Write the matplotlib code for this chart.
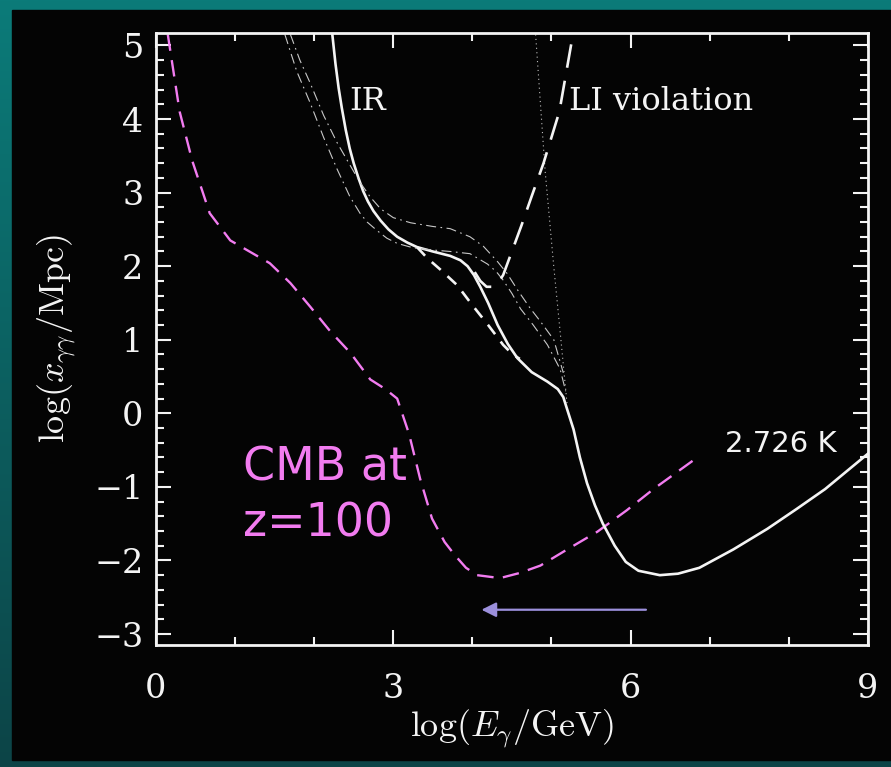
import numpy as np
import matplotlib
matplotlib.use("Agg")
import matplotlib.pyplot as plt
from matplotlib.patches import Rectangle

plt.rcParams['mathtext.fontset'] = 'cm'

# ---- data (log E in GeV, log x in Mpc) ----
cmb_x = [0.15, 0.3, 0.46, 0.68, 0.94, 1.23, 1.44, 1.70, 1.95, 2.2, 2.46, 2.71, 2.9,
         3.05, 3.2, 3.34, 3.49, 3.65, 3.78, 3.92, 4.06, 4.35, 4.6, 4.86, 5.2, 5.58, 5.95, 6.29, 6.87]
cmb_y = [5.15, 4.1, 3.43, 2.72, 2.35, 2.17, 2.04, 1.77, 1.45, 1.12, 0.82, 0.46, 0.33,
         0.2, -0.28, -0.89, -1.43, -1.75, -1.93, -2.1, -2.2, -2.24, -2.17, -2.07, -1.85, -1.61, -1.32, -1.03, -0.58]

ir_x = [2.23, 2.27, 2.31, 2.35, 2.40, 2.45, 2.50, 2.56, 2.62, 2.68, 2.75, 2.84, 2.94, 3.05,
        3.18, 3.3, 3.5, 3.72, 3.85, 3.94, 4.02, 4.1, 4.2, 4.32, 4.45, 4.57, 4.75, 4.95, 5.08,
        5.15, 5.2, 5.28, 5.36, 5.45, 5.55, 5.65, 5.8, 5.94, 6.1, 6.37, 6.6, 6.87, 7.3, 7.73,
        8.1, 8.46, 9.0]
ir_y = [5.15, 4.75, 4.42, 4.15, 3.85, 3.6, 3.4, 3.2, 3.02, 2.88, 2.75, 2.62, 2.5, 2.4,
        2.32, 2.26, 2.2, 2.14, 2.08, 2.0, 1.88, 1.72, 1.5, 1.2, 0.94, 0.75, 0.56, 0.43, 0.33,
        0.22, 0.05, -0.22, -0.6, -0.95, -1.25, -1.5, -1.8, -2.02, -2.14, -2.2, -2.18, -2.1,
        -1.85, -1.57, -1.3, -1.03, -0.55]

sd_x = [3.3, 3.43, 3.6, 3.81, 4.0, 4.2, 4.39, 4.51, 4.6]
sd_y = [2.26, 2.11, 1.95, 1.74, 1.47, 1.2, 0.93, 0.8, 0.74]

dda_x = [1.70, 1.82, 1.95, 2.12, 2.29, 2.45, 2.58, 2.71, 2.84, 3.0, 3.22, 3.5, 3.72,
         3.97, 4.14, 4.32, 4.44, 4.57, 4.73, 4.86, 5.03, 5.15]
dda_y = [5.15, 4.8, 4.49, 4.05, 3.68, 3.38, 3.14, 2.94, 2.78, 2.66, 2.59, 2.54, 2.51,
         2.40, 2.27, 2.06, 1.9, 1.68, 1.43, 1.25, 1.0, 0.55]

ddb_x = [1.63, 1.78, 1.95, 2.12, 2.29, 2.45, 2.58, 2.67, 2.8, 2.92, 3.05, 3.25, 3.5,
         3.72, 3.97, 4.19, 4.3, 4.39, 4.5, 4.61, 4.77, 4.95, 5.11, 5.18]
ddb_y = [5.15, 4.65, 4.22, 3.75, 3.32, 2.95, 2.72, 2.6, 2.48, 2.38, 2.31, 2.25, 2.22,
         2.2, 2.17, 2.03, 1.93, 1.81, 1.63, 1.42, 1.2, 0.93, 0.6, 0.3]

dot_x = [4.8, 4.92, 5.03, 5.12, 5.2]
dot_y = [5.15, 3.3, 1.99, 1.0, 0.1]

li_x = [4.03, 4.1, 4.18, 4.26, 4.33, 4.39, 4.5, 4.62, 4.75, 4.9, 5.1, 5.28]
li_y = [1.92, 1.8, 1.72, 1.72, 1.78, 1.88, 2.2, 2.55, 2.95, 3.4, 4.1, 5.2]

arrow_start = (6.23, -2.67)
arrow_end = (4.08, -2.67)

xticks = [0, 3, 6, 9]
yticks = [-3, -2, -1, 0, 1, 2, 3, 4, 5]

# ---- figure ----
fig = plt.figure(figsize=(8.91, 7.67), dpi=100)

# teal slide background + black panel
bg = fig.add_axes([0, 0, 1, 1])
grad = np.linspace(0, 1, 256).reshape(-1, 1)
bg.imshow(grad, aspect='auto', extent=[0, 1, 0, 1],
          cmap=matplotlib.colors.LinearSegmentedColormap.from_list('t', ['#0b7b79', '#0d4447']))
bg.add_patch(Rectangle((12 / 891, 7 / 767), 1, 750 / 767, color='#040404', zorder=2))
bg.set_xlim(0, 1)
bg.set_ylim(0, 1)
bg.axis('off')

ax = fig.add_axes([0.175, 0.159, 0.799, 0.798])
ax.set_facecolor('#040404')

white = '#f4f4f4'
ax.plot(cmb_x, cmb_y, color='#f27cf0', lw=1.7, dashes=(7, 4))
ax.plot(ir_x, ir_y, color=white, lw=1.9)
ax.plot(sd_x, sd_y, color=white, lw=1.9, dashes=(4.5, 3.5))
ax.plot(dda_x, dda_y, color='#c8c8c8', lw=0.8, dashes=(9, 4, 1.5, 4))
ax.plot(ddb_x, ddb_y, color='#c8c8c8', lw=0.8, dashes=(9, 4, 1.5, 4))
ax.plot(dot_x, dot_y, color='#c0c0c0', lw=0.8, dashes=(1, 3))
ax.plot(li_x, li_y, color=white, lw=1.9, dashes=(9, 5))

ax.annotate('', xy=arrow_end, xytext=arrow_start,
            arrowprops=dict(arrowstyle='-|>', color='#9c90dc', lw=1.6, mutation_scale=22))

ax.text(2.45, 4.24, 'IR', color=white, fontsize=23, family='DejaVu Serif', va='center')
ax.text(5.22, 4.24, 'LI violation', color=white, fontsize=23, family='DejaVu Serif', va='center')
ax.text(7.2, -0.42, '2.726 K', color=white, fontsize=21, family='DejaVu Sans', va='center')
ax.text(1.1, -0.75, 'CMB at', color='#f27cf0', fontsize=33, va='center')
ax.text(1.1, -1.5, 'z=100', color='#f27cf0', fontsize=33, va='center')

ax.set_xlim(0, 9)
ax.set_ylim(-3.15, 5.17)
ax.set_xticks(xticks)
ax.set_xticklabels([str(t) for t in xticks])
ax.set_xticks(np.arange(0, 10, 1), minor=True)
ax.set_yticks(yticks)
ax.set_yticklabels([str(t).replace('-', '\u2212') for t in yticks])
ax.set_yticks(np.arange(-3, 5.01, 0.2), minor=True)

ax.tick_params(which='both', direction='in', top=True, right=True, colors=white, width=1.5)
ax.tick_params(which='major', length=11, labelsize=24)
ax.tick_params(which='minor', length=6)
ax.tick_params(axis='x', which='major', pad=20)
ax.tick_params(axis='y', which='major', pad=9)
for lab in ax.get_xticklabels() + ax.get_yticklabels():
    lab.set_family('DejaVu Serif')
for s in ax.spines.values():
    s.set_color(white)
    s.set_linewidth(2)

ax.set_xlabel(r'$\log(E_\gamma/{\rm GeV})$', color=white, fontsize=26, labelpad=2)
ax.set_ylabel(r'$\log(x_{\gamma\gamma}/{\rm Mpc})$', color=white, fontsize=26, labelpad=12)

fig.savefig('out.png', dpi=100)
